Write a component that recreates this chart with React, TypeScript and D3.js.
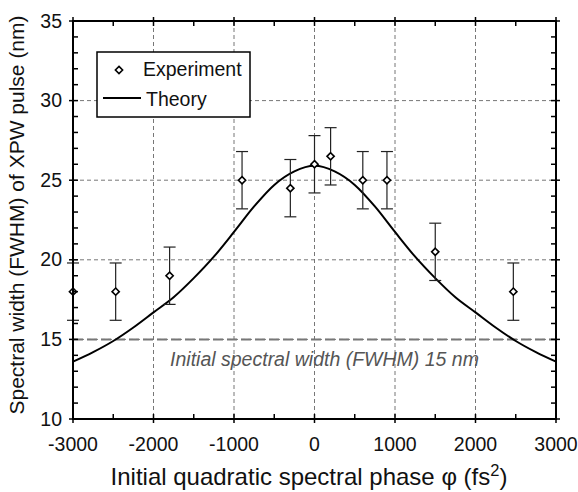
import React from "react";
import * as d3 from "d3";

const expPhase = [-3000, -2470, -1800, -900, -300, 0, 200, 600, 900, 1500, 2470];
const expWidth = [18, 18, 19, 25, 24.5, 26, 26.5, 25, 25, 20.5, 18];
const expErr = [1.8, 1.8, 1.8, 1.8, 1.8, 1.8, 1.8, 1.8, 1.8, 1.8, 1.8];

const theoryPhase = [-3000, -2750, -2500, -2250, -2000, -1750, -1500, -1250, -1000, -750, -500, -250, 0, 250, 500, 750, 1000, 1250, 1500, 1750, 2000, 2250, 2500, 2750, 3000];
const theoryWidth = [13.6, 14.2, 14.9, 15.75, 16.7, 17.65, 18.85, 20.2, 21.75, 23.35, 24.7, 25.55, 25.9, 25.55, 24.7, 23.35, 21.75, 20.2, 18.85, 17.65, 16.7, 15.75, 14.9, 14.2, 13.6];

const xTicks = [-3000, -2000, -1000, 0, 1000, 2000, 3000];
const yTicks = [10, 15, 20, 25, 30, 35];
const initialWidth = 15;

const W = 578;
const H = 492;
const left = 73;
const right = 556;
const top = 21;
const bottom = 419;
const FONT = "'Liberation Sans', Arial, sans-serif";

export default function App() {
  const x = d3.scaleLinear().domain([-3000, 3000]).range([left, right]);
  const y = d3.scaleLinear().domain([10, 35]).range([bottom, top]);
  const line = d3
    .line<number>()
    .x((_, i) => x(theoryPhase[i]))
    .y((d) => y(d))
    .curve(d3.curveMonotoneX);

  const xMinor = d3.range(-3000, 3001, 500);
  const yMinor = d3.range(10, 35.01, 1);

  const diamond = (cx: number, cy: number, r = 3.6) =>
    `M${cx},${cy - r}L${cx + r},${cy}L${cx},${cy + r}L${cx - r},${cy}Z`;

  return (
    <svg width={W} height={H} style={{ position: "absolute", left: 0, top: 0, background: "#fff" }}>
      <rect x={0} y={0} width={W} height={H} fill="#fff" />
      {/* grid */}
      {xTicks.slice(1, -1).map((t) => (
        <line key={"gx" + t} x1={x(t)} x2={x(t)} y1={top} y2={bottom} stroke="#777" strokeWidth={1} strokeDasharray="4,3" />
      ))}
      {yTicks.slice(1, -1).map((t) => (
        <line key={"gy" + t} x1={left} x2={right} y1={y(t)} y2={y(t)} stroke="#777" strokeWidth={1} strokeDasharray="4,3" />
      ))}
      {/* initial width line */}
      <line x1={left} x2={right} y1={y(initialWidth)} y2={y(initialWidth)} stroke="#777" strokeWidth={2} strokeDasharray="10,4" />
      <text x={324.5} y={366} textAnchor="middle" fontFamily={FONT} fontStyle="italic" fontSize={19.5} fill="#555">
        Initial spectral width (FWHM) 15 nm
      </text>
      {/* theory */}
      <path d={line(theoryWidth) || ""} fill="none" stroke="#000" strokeWidth={2} />
      {/* error bars */}
      {expPhase.map((p, i) => {
        const cx = x(p);
        const y1 = y(expWidth[i] + expErr[i]);
        const y2 = y(expWidth[i] - expErr[i]);
        return (
          <g key={"e" + i} stroke="#222" strokeWidth={1.2}>
            <line x1={cx} x2={cx} y1={y1} y2={y2} />
            <line x1={cx - 6} x2={cx + 6} y1={y1} y2={y1} />
            <line x1={cx - 6} x2={cx + 6} y1={y2} y2={y2} />
          </g>
        );
      })}
      {expPhase.map((p, i) => (
        <path key={"m" + i} d={diamond(x(p), y(expWidth[i]))} fill="#fff" stroke="#000" strokeWidth={1.6} />
      ))}
      {/* ticks */}
      {xMinor.map((t) => {
        const major = t % 1000 === 0;
        return (
          <g key={"xt" + t} stroke="#000" strokeWidth={1.5}>
            <line x1={x(t)} x2={x(t)} y1={bottom + (major ? 4 : 0)} y2={bottom - 5} />
            <line x1={x(t)} x2={x(t)} y1={top - (major ? 4 : 0)} y2={top + 5} />
          </g>
        );
      })}
      {yMinor.map((t) => {
        const major = t % 5 === 0;
        return (
          <g key={"yt" + t} stroke="#000" strokeWidth={1.5}>
            <line x1={left - (major ? 4 : 0)} x2={left + 5} y1={y(t)} y2={y(t)} />
            <line x1={right + (major ? 4 : 0)} x2={right - 5} y1={y(t)} y2={y(t)} />
          </g>
        );
      })}
      {/* frame */}
      <rect x={left} y={top} width={right - left} height={bottom - top} fill="none" stroke="#000" strokeWidth={2} />
      {/* tick labels */}
      {xTicks.map((t) => (
        <text key={"xl" + t} x={x(t)} y={450.5} textAnchor="middle" fontFamily={FONT} fontSize={19.5} fill="#111">
          {t}
        </text>
      ))}
      {yTicks.map((t) => (
        <text key={"yl" + t} x={62} y={y(t) + 6.5} textAnchor="end" fontFamily={FONT} fontSize={19.5} fill="#111">
          {t}
        </text>
      ))}
      {/* axis titles */}
      <text x={309} y={485} textAnchor="middle" fontFamily={FONT} fontSize={24} fill="#111">
        Initial quadratic spectral phase φ (fs<tspan dy={-9} fontSize={16.5}>2</tspan><tspan dy={9}>)</tspan>
      </text>
      <text
        transform={`translate(24, 215) rotate(-90)`}
        textAnchor="middle"
        fontFamily={FONT}
        fontSize={21}
        fill="#111"
      >
        Spectral width (FWHM) of XPW pulse (nm)
      </text>
      {/* legend */}
      <rect x={97} y={52} width={153} height={65} fill="#fff" stroke="#000" strokeWidth={1.5} />
      <path d={diamond(119, 70)} fill="#fff" stroke="#000" strokeWidth={1.6} />
      <text x={143} y={76} fontFamily={FONT} fontSize={19.5} fill="#111">Experiment</text>
      <line x1={103} x2={141} y1={98} y2={98} stroke="#000" strokeWidth={2} />
      <text x={146} y={106} fontFamily={FONT} fontSize={19.5} fill="#111">Theory</text>
    </svg>
  );
}
